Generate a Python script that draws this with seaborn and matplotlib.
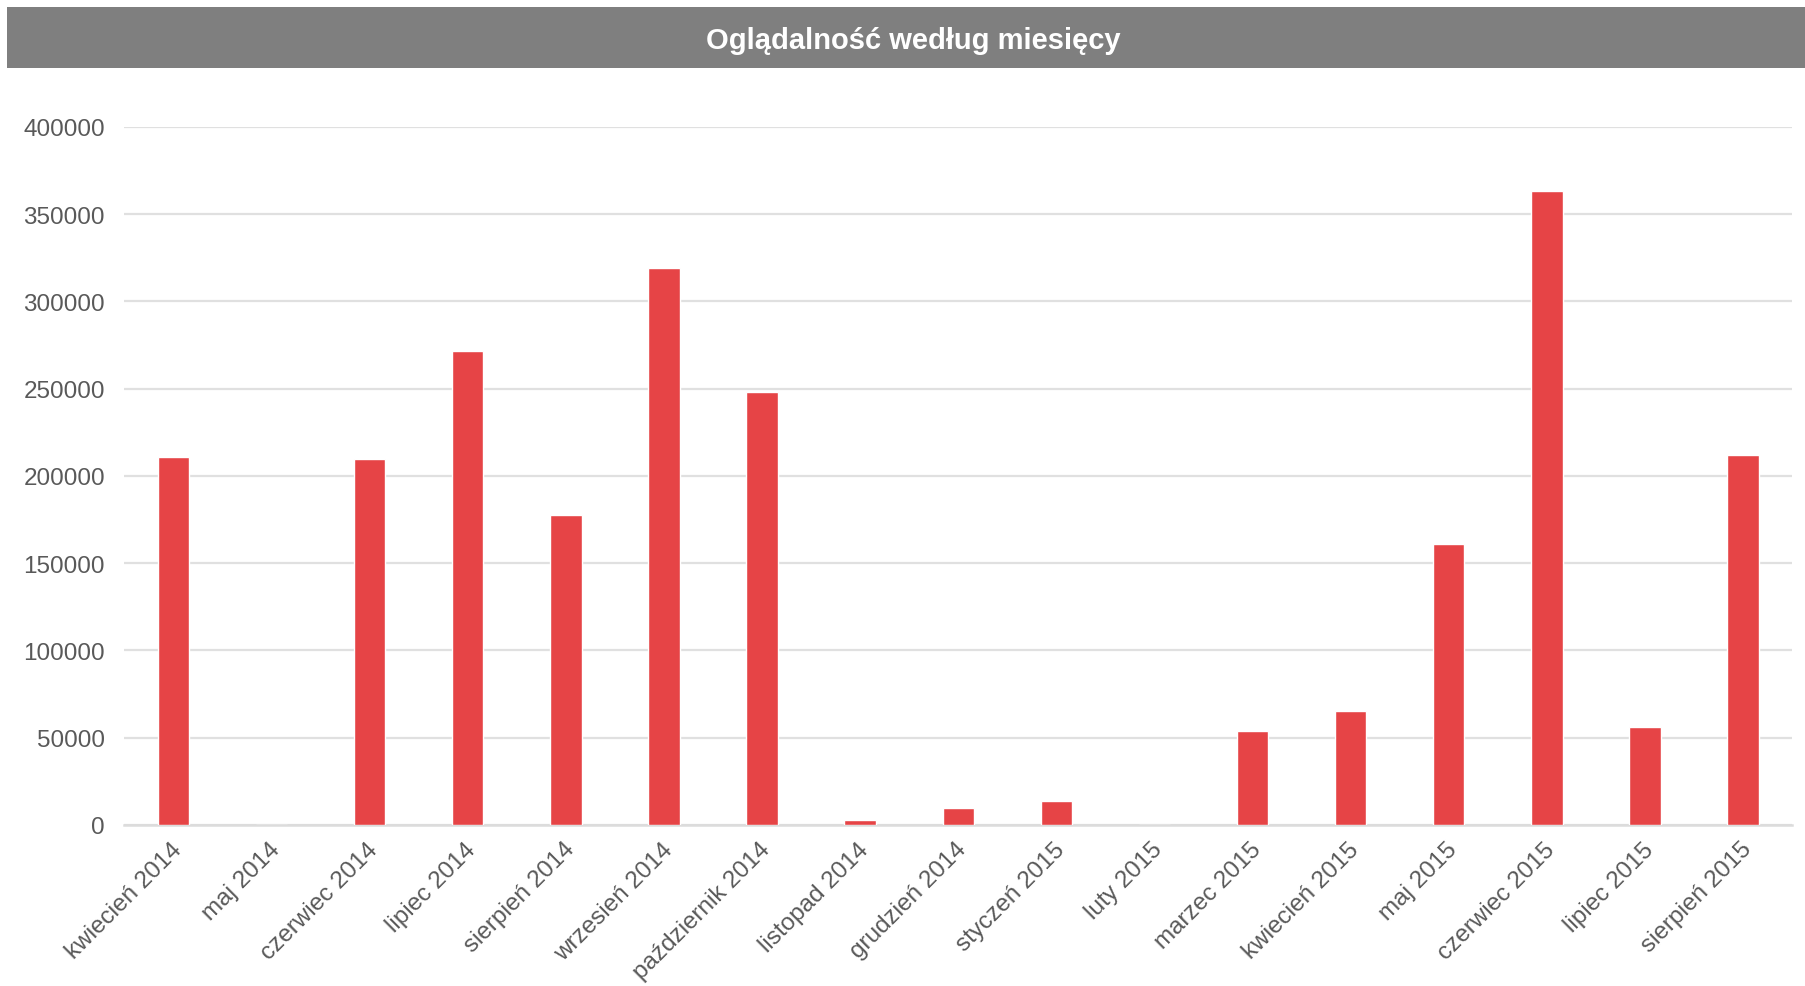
import matplotlib
matplotlib.use("Agg")
import matplotlib.pyplot as plt
import matplotlib.transforms as mtransforms
import pandas as pd
import seaborn as sns
from matplotlib.patches import Rectangle

months = ["kwiecień 2014", "maj 2014", "czerwiec 2014", "lipiec 2014", "sierpień 2014",
          "wrzesień 2014", "październik 2014", "listopad 2014", "grudzień 2014",
          "styczeń 2015", "luty 2015", "marzec 2015", "kwiecień 2015", "maj 2015",
          "czerwiec 2015", "lipiec 2015", "sierpień 2015"]
views = [210500, 0, 209400, 271800, 177800, 318900, 247900, 2500, 9500,
         13400, 0, 54000, 65000, 160700, 363000, 56300, 212200]
y_ticks = [0, 50000, 100000, 150000, 200000, 250000, 300000, 350000, 400000]
title = "Oglądalność według miesięcy"

df = pd.DataFrame({"miesiac": months, "wyswietlenia": views})

sns.set_style("white")
plt.rcParams["font.family"] = ["Liberation Sans", "DejaVu Sans"]

fig = plt.figure(figsize=(18.06, 9.87), dpi=100)
ax = fig.add_axes([0.0689, 0.1633, 0.9234, 0.7072])

sns.barplot(data=df, x="miesiac", y="wyswietlenia", color="#e64446",
            width=0.32, saturation=1, ax=ax, zorder=3)

ax.set_xlim(-0.5, len(months) - 0.5)
ax.set_ylim(0, 400000)
ax.set_yticks(y_ticks)
ax.set_yticklabels([str(v) for v in y_ticks])
ax.yaxis.grid(True, color="#e0e0e0", linewidth=1.6, zorder=0)
ax.set_axisbelow(True)
ax.set_xlabel("")
ax.set_ylabel("")
for s in ["top", "right", "left"]:
    ax.spines[s].set_visible(False)
ax.spines["bottom"].set_color("#dcdcdc")
ax.spines["bottom"].set_linewidth(1.8)
ax.spines["bottom"].set_zorder(2)
ax.tick_params(axis="both", length=0, labelsize=17.5, labelcolor="#595959")
ax.tick_params(axis="y", pad=14)
ax.tick_params(axis="x", pad=15)
shift = mtransforms.ScaledTranslation(5 / 100, 0, fig.dpi_scale_trans)
for lbl in ax.get_xticklabels():
    lbl.set_rotation(45)
    lbl.set_ha("right")
    lbl.set_va("center")
    lbl.set_rotation_mode("anchor")
    lbl.set_transform(lbl.get_transform() + shift)

# grey title band
fig.patches.append(Rectangle((7 / 1806, 1 - 69 / 987), 1 - 7 / 1806, 61 / 987,
                             transform=fig.transFigure, facecolor="#7f7f7f",
                             edgecolor="none", zorder=0))
fig.text(913 / 1806, 1 - 41 / 987, title, ha="center", va="center",
         color="white", fontsize=21, fontweight="bold")

fig.savefig("out.png", dpi=100)
